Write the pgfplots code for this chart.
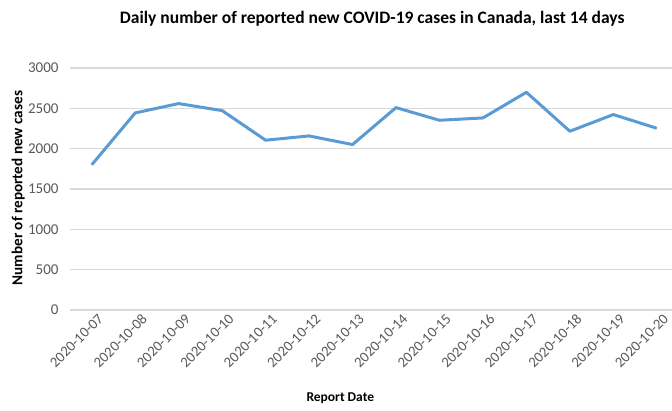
\documentclass[border=0pt]{standalone}
\usepackage{fontspec}
\setmainfont{Carlito}
\usepackage{pgfplots}
\pgfplotsset{compat=1.18}
\definecolor{lineblue}{HTML}{5B9BD5}
\definecolor{gridgray}{HTML}{D9D9D9}
\definecolor{ticktext}{HTML}{595959}
\begin{document}
\begin{tikzpicture}
\begin{axis}[
    at={(0pt,0pt)}, anchor=south west,
    scale only axis,
    width=602pt, height=242pt,
    xmin=-0.5, xmax=13.35,
    ymin=0, ymax=3000,
    ytick={0,500,...,3000},
    xtick={0,...,13},
    xticklabels={2020-10-07,2020-10-08,2020-10-09,2020-10-10,2020-10-11,2020-10-12,2020-10-13,2020-10-14,2020-10-15,2020-10-16,2020-10-17,2020-10-18,2020-10-19,2020-10-20},
    x tick label style={rotate=45, anchor=north east, font=\fontsize{14.7}{16}\selectfont, text=ticktext, inner sep=1pt, xshift=3pt, yshift=-5pt},
    y tick label style={font=\fontsize{15}{16}\selectfont, text=ticktext, xshift=-8pt},
    /pgf/number format/assume math mode=true,
    /pgf/number format/1000 sep={},
    axis line style={draw=none},
    tick style={draw=none},
    ymajorgrids,
    grid style={color=gridgray, line width=1.2pt},
    title={Daily number of reported new COVID-19 cases in Canada, last 14 days},
    title style={at={(axis description cs:0.502,1.18)}, anchor=center, font=\bfseries\fontsize{17.5}{19}\selectfont},
    xlabel={Report Date},
    xlabel style={at={(axis description cs:0.449,-0.364)}, anchor=center, font=\bfseries\fontsize{13.5}{15}\selectfont},
    ylabel={Number of reported new cases},
    ylabel style={at={(axis description cs:-0.086,0.504)}, anchor=center, font=\bfseries\fontsize{15.2}{16}\selectfont},
    clip=false,
]
\addplot[lineblue, line width=3pt, line join=round] coordinates {
    (0,1800)(1,2443)(2,2559)(3,2472)(4,2105)(5,2158)(6,2051)
    (7,2509)(8,2352)(9,2381)(10,2699)(11,2216)(12,2423)(13,2253)
};
\end{axis}
\pgfresetboundingbox
\path[use as bounding box] (-70pt,-100pt) rectangle (602pt,310pt);
\end{tikzpicture}
\end{document}
